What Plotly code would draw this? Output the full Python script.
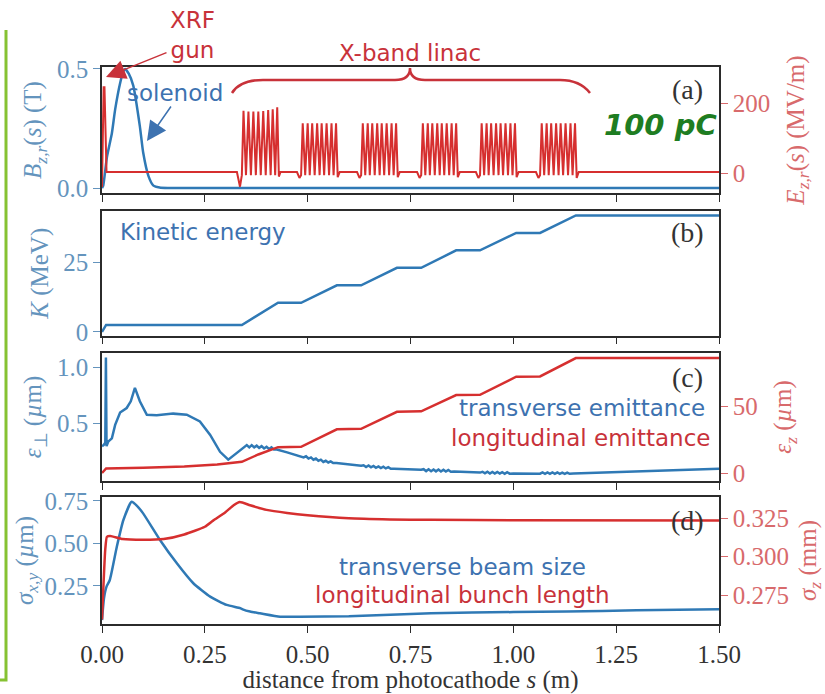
import plotly.graph_objects as go

# ---------------- data ----------------
# panel (a): solenoid field Bz (T) and RF field Ez (MV/m)
sol_s = [0.0, 0.003, 0.012, 0.024, 0.032, 0.044, 0.052, 0.056, 0.065, 0.076, 0.092, 0.100, 0.113, 0.125, 0.14, 0.16, 1.5]
sol_B = [0.0, 0.01, 0.13, 0.23, 0.33, 0.44, 0.49, 0.50, 0.48, 0.43, 0.26, 0.15, 0.05, 0.01, 0.002, 0.0, 0.0]

rf_s = [0.0, 0.004, 0.006, 0.011, 0.328, 0.3355,
        0.340, 0.344, 0.350, 0.356, 0.362, 0.368, 0.374, 0.380, 0.386, 0.392, 0.398, 0.404, 0.410, 0.415, 0.421, 0.426, 0.430, 0.434,
        0.474, 0.480, 0.484, 0.488, 0.494, 0.500, 0.505, 0.511, 0.517, 0.523, 0.529, 0.534, 0.540, 0.546, 0.552, 0.558, 0.563, 0.569, 0.573, 0.578,
        0.620, 0.626, 0.630, 0.634, 0.640, 0.646, 0.651, 0.657, 0.663, 0.669, 0.675, 0.680, 0.686, 0.692, 0.698, 0.704, 0.709, 0.715, 0.719, 0.724,
        0.766, 0.772, 0.776, 0.780, 0.786, 0.792, 0.797, 0.803, 0.809, 0.815, 0.821, 0.826, 0.832, 0.838, 0.844, 0.850, 0.855, 0.861, 0.865, 0.870,
        0.909, 0.915, 0.919, 0.923, 0.929, 0.935, 0.940, 0.946, 0.952, 0.958, 0.964, 0.969, 0.975, 0.981, 0.987, 0.993, 0.998, 1.004, 1.008, 1.013,
        1.055, 1.061, 1.065, 1.069, 1.075, 1.081, 1.086, 1.092, 1.098, 1.104, 1.110, 1.115, 1.121, 1.127, 1.133, 1.139, 1.144, 1.150, 1.154, 1.159,
        1.5]
rf_E = [-40, 245, 245, 3, 3, -39,
        -6, 178, -6, 176, -6, 176, -6, 176, -6, 177, -6, 180, -6, 182, -6, 188, -10, 3,
        3, -14, -6, 142, -6, 142, -6, 142, -6, 142, -6, 142, -6, 142, -6, 142, -6, 142, -12, 3,
        3, -14, -6, 142, -6, 142, -6, 142, -6, 142, -6, 142, -6, 142, -6, 142, -6, 142, -12, 3,
        3, -14, -6, 142, -6, 142, -6, 142, -6, 142, -6, 142, -6, 142, -6, 142, -6, 142, -12, 3,
        3, -14, -6, 142, -6, 142, -6, 142, -6, 142, -6, 142, -6, 142, -6, 142, -6, 142, -12, 3,
        3, -14, -6, 142, -6, 142, -6, 142, -6, 142, -6, 142, -6, 142, -6, 142, -6, 142, -14, 3,
        3]

# panel (b): kinetic energy (MeV)
ke_s = [0.0, 0.01, 0.34, 0.428, 0.484, 0.571, 0.630, 0.717, 0.776, 0.861, 0.919, 1.007, 1.065, 1.152, 1.5]
ke_K = [0.0, 2.5, 2.5, 10.5, 10.5, 16.8, 16.8, 23.1, 23.1, 29.4, 29.4, 35.7, 35.7, 42.0, 42.0]

# panel (c): transverse emittance (um) and longitudinal emittance (um)
emt_s = [0.0, 0.004, 0.008, 0.0095, 0.011, 0.015, 0.024, 0.032, 0.044, 0.060, 0.070, 0.080, 0.092, 0.109, 0.133, 0.173,
         0.206, 0.238, 0.263, 0.287, 0.307, 0.327,
         0.345, 0.352, 0.358, 0.364, 0.370, 0.376, 0.382, 0.388, 0.394, 0.400, 0.406, 0.412, 0.418, 0.425, 0.450, 0.481,
         0.490, 0.496, 0.502, 0.508, 0.514, 0.520, 0.526, 0.532, 0.538, 0.544, 0.550, 0.556, 0.562, 0.570, 0.600, 0.630,
         0.636, 0.642, 0.648, 0.654, 0.660, 0.666, 0.672, 0.678, 0.684, 0.690, 0.696, 0.702, 0.710, 0.740, 0.776,
         0.782, 0.788, 0.794, 0.800, 0.806, 0.812, 0.818, 0.824, 0.830, 0.836, 0.842, 0.848, 0.856, 0.890, 0.919,
         0.925, 0.931, 0.937, 0.943, 0.949, 0.955, 0.961, 0.967, 0.973, 0.979, 0.985, 0.991, 1.000, 1.030, 1.065,
         1.071, 1.077, 1.083, 1.089, 1.095, 1.101, 1.107, 1.113, 1.119, 1.125, 1.131, 1.137, 1.146,
         1.200, 1.300, 1.400, 1.500]
emt_v = [0.30, 0.31, 0.33, 1.09, 0.30, 0.34, 0.37, 0.49, 0.60, 0.64, 0.70, 0.82, 0.70, 0.58, 0.575, 0.59,
         0.58, 0.52, 0.40, 0.25, 0.18, 0.24,
         0.29, 0.31, 0.29, 0.31, 0.29, 0.305, 0.285, 0.30, 0.28, 0.295, 0.275, 0.29, 0.27, 0.27, 0.245, 0.21,
         0.20, 0.21, 0.19, 0.20, 0.18, 0.19, 0.17, 0.18, 0.16, 0.17, 0.155, 0.165, 0.15, 0.15, 0.14, 0.125,
         0.13, 0.115, 0.128, 0.112, 0.124, 0.108, 0.12, 0.105, 0.117, 0.102, 0.113, 0.099, 0.10, 0.095, 0.09,
         0.095, 0.078, 0.094, 0.077, 0.093, 0.076, 0.092, 0.075, 0.09, 0.074, 0.088, 0.073, 0.075, 0.07, 0.065,
         0.072, 0.058, 0.072, 0.057, 0.071, 0.056, 0.07, 0.056, 0.069, 0.055, 0.068, 0.055, 0.056, 0.055, 0.055,
         0.066, 0.054, 0.066, 0.054, 0.066, 0.054, 0.066, 0.054, 0.065, 0.054, 0.065, 0.054, 0.056,
         0.062, 0.075, 0.088, 0.10]

eml_s = [0.0, 0.01, 0.1, 0.2, 0.28, 0.34, 0.38, 0.428, 0.484, 0.571, 0.63, 0.717, 0.776, 0.861, 0.919, 1.007, 1.065, 1.152, 1.5]
eml_v = [0.0, 3.5, 4.0, 5.0, 6.5, 8.5, 14.0, 19.5, 19.8, 33.0, 33.3, 46.2, 46.5, 58.8, 59.0, 72.6, 72.8, 86.7, 86.7]

# panel (d): transverse beam size (um) and bunch length (mm)
sxy_s = [0.0, 0.005, 0.011, 0.019, 0.036, 0.052, 0.072, 0.085, 0.100, 0.141, 0.182, 0.222, 0.263, 0.303, 0.336, 0.342,
         0.360, 0.384, 0.433, 0.481, 0.600, 0.800, 1.000, 1.130, 1.300, 1.500]
sxy_v = [0.05, 0.18, 0.246, 0.285, 0.48, 0.637, 0.744, 0.72, 0.676, 0.52, 0.383, 0.266, 0.1875, 0.139, 0.12, 0.113,
         0.10, 0.09, 0.07, 0.07, 0.072, 0.09, 0.097, 0.10, 0.107, 0.114]

sz_s = [0.0, 0.008, 0.012, 0.02, 0.05, 0.10, 0.15, 0.20, 0.25, 0.27, 0.30, 0.32, 0.335, 0.36, 0.40, 0.45, 0.50, 0.60,
        0.70, 0.80, 1.00, 1.50]
sz_v = [0.259, 0.305, 0.313, 0.3135, 0.3115, 0.311, 0.3115, 0.3145, 0.3195, 0.3235, 0.329, 0.3335, 0.3356, 0.3335,
        0.3305, 0.3285, 0.327, 0.325, 0.3243, 0.324, 0.3237, 0.3235]

x_ticks = [0.0, 0.25, 0.5, 0.75, 1.0, 1.25, 1.5]
x_ticklabels = ["0.00", "0.25", "0.50", "0.75", "1.00", "1.25", "1.50"]

# ---------------- style ----------------
BLUE = "#2f79b5"
RED = "#d62f2f"
BLUE_TXT = "#6494bd"
RED_TXT = "#d86a6c"
ANN_BLUE = "#3d72b0"
ANN_RED = "#c8323a"
GREEN = "#1e7d22"
FRAME = "#2b2b2b"
SERIF = "Liberation Serif"
SANS = "DejaVu Sans"

W, H = 825, 694
L, R, T, B = 102, 719, 67, 624


def px(xp):
    return (xp - L) / (R - L)


def py(yp):
    return (B - yp) / (B - T)


def dom(top, bottom):
    return [py(bottom), py(top)]


fig = go.Figure()
lw = 2.5
smooth = dict(shape="spline", smoothing=0.5)
fig.add_trace(go.Scatter(x=sol_s, y=sol_B, mode="lines", line=dict(color=BLUE, width=lw, **smooth), xaxis="x", yaxis="y"))
fig.add_trace(go.Scatter(x=rf_s, y=rf_E, mode="lines", line=dict(color=RED, width=2), xaxis="x", yaxis="y2"))
fig.add_trace(go.Scatter(x=ke_s, y=ke_K, mode="lines", line=dict(color=BLUE, width=lw), xaxis="x2", yaxis="y3"))
fig.add_trace(go.Scatter(x=emt_s, y=emt_v, mode="lines", line=dict(color=BLUE, width=lw), xaxis="x3", yaxis="y4"))
fig.add_trace(go.Scatter(x=eml_s, y=eml_v, mode="lines", line=dict(color=RED, width=lw), xaxis="x3", yaxis="y5"))
fig.add_trace(go.Scatter(x=sxy_s, y=sxy_v, mode="lines", line=dict(color=BLUE, width=lw, **smooth), xaxis="x4", yaxis="y6"))
fig.add_trace(go.Scatter(x=sz_s, y=sz_v, mode="lines", line=dict(color=RED, width=lw, **smooth), xaxis="x4", yaxis="y7"))

tickfont = lambda c: dict(family=SERIF, size=25, color=c)


def xax(anchor, labels=False, title=None):
    d = dict(range=[0, 1.5], tickvals=x_ticks, ticktext=x_ticklabels, showticklabels=labels,
             showline=True, linecolor=FRAME, linewidth=1.5, mirror=True, ticks="outside", ticklen=7,
             tickwidth=1.3, tickcolor=FRAME, showgrid=False, zeroline=False, anchor=anchor,
             tickfont=tickfont("#333333"), domain=[0, 1], automargin=False)
    if title:
        d["title"] = dict(text=title, font=dict(family=SERIF, size=25, color="#333333"), standoff=16)
    return d


def yax(rng, tickvals, ticktext, color, title, anchor, domain=None, side="left", overlaying=None, standoff=10):
    d = dict(range=rng, tickvals=tickvals, ticktext=ticktext, showline=True, linecolor=FRAME, linewidth=1.5,
             mirror=(overlaying is None), ticks="outside", ticklen=7, tickwidth=1.3, tickcolor=color,
             showgrid=False, zeroline=False, anchor=anchor, side=side, tickfont=tickfont(color), automargin=False,
             title=dict(text=title, font=dict(family=SERIF, size=25, color=color), standoff=standoff))
    if domain is not None:
        d["domain"] = domain
    if overlaying:
        d["overlaying"] = overlaying
    return d


layout = dict(
    width=W, height=H, margin=dict(l=L, r=W - R, t=T, b=H - B, autoexpand=False),
    plot_bgcolor="white", paper_bgcolor="white", showlegend=False,
    xaxis=xax("y"),
    xaxis2=xax("y3"),
    xaxis3=xax("y4"),
    xaxis4=xax("y6", labels=True, title="distance from photocathode <i>s</i> (m)"),
    yaxis=yax([-0.021, 0.508], [0, 0.5], ["0.0", "0.5"], BLUE_TXT,
              "<i>B</i><sub><i>z,r</i></sub>(<i>s</i>) (T)", "x", domain=dom(67, 193), standoff=8),
    yaxis2=yax([-57, 303], [0, 200], ["0", "200"], RED_TXT,
               "<i>E</i><sub><i>z,r</i></sub>(<i>s</i>) (MV/m)", "x", side="right", overlaying="y", standoff=17),
    yaxis3=yax([-1.3, 43.6], [0, 25], ["0", "25"], BLUE_TXT, "<i>K</i> (MeV)", "x2", domain=dom(211, 335.5),
               standoff=8),
    yaxis4=yax([-0.01, 1.13], [0.5, 1.0], ["0.5", "1.0"], BLUE_TXT, "<i>ε</i><sub>⊥</sub> (<i>µ</i>m)", "x3",
               domain=dom(353, 481), standoff=8),
    yaxis5=yax([-6, 90.5], [0, 50], ["0", "50"], RED_TXT, "<i>ε</i><sub><i>z</i></sub> (<i>µ</i>m)", "x3",
               side="right", overlaying="y4", standoff=17),
    yaxis6=yax([0.027, 0.772], [0.25, 0.5, 0.75], ["0.25", "0.50", "0.75"], BLUE_TXT,
               "<i>σ</i><sub><i>x,y</i></sub> (<i>µ</i>m)", "x4", domain=dom(497, 624), standoff=4),
    yaxis7=yax([0.2561, 0.3389], [0.275, 0.3, 0.325], ["0.275", "0.300", "0.325"], RED_TXT,
               "<i>σ</i><sub><i>z</i></sub> (mm)", "x4", side="right", overlaying="y6", standoff=16),
)
fig.update_layout(**layout)


def text_ann(t, x, y, size, color, family=SANS, xanchor="center"):
    fig.add_annotation(text=t, x=px(x), y=py(y), xref="paper", yref="paper", showarrow=False,
                       xanchor=xanchor, yanchor="middle", font=dict(family=family, size=size, color=color))


# labels in panel (a)
text_ann("XRF<br>gun", 192, 35, 23, ANN_RED)
text_ann("solenoid", 175, 93, 23, ANN_BLUE)
text_ann("X-band linac", 410, 53, 23, ANN_RED)
text_ann("<b><i>100 pC</i></b>", 660, 125, 29, GREEN)
for lab, yy in [("(a)", 90), ("(b)", 232), ("(c)", 377), ("(d)", 520)]:
    text_ann(lab, 687, yy, 28, "#333333", family=SERIF)
text_ann("Kinetic energy", 203, 232, 23, ANN_BLUE)
text_ann("transverse emittance", 707, 408, 23, ANN_BLUE, xanchor="right")
text_ann("longitudinal emittance", 712, 438, 23, ANN_RED, xanchor="right")
text_ann("transverse beam size", 462.5, 567, 23, ANN_BLUE)
text_ann("longitudinal bunch length", 462.5, 595, 23, ANN_RED)

# arrows
fig.add_annotation(text="", x=0.0097, y=0.466, xref="x", yref="y", ax=62, ay=-25, showarrow=True,
                   arrowhead=2, arrowsize=2.6, arrowwidth=1.5, arrowcolor=ANN_RED)
fig.add_annotation(text="", x=0.1094, y=0.1975, xref="x", yref="y", ax=25, ay=-36, showarrow=True,
                   arrowhead=2, arrowsize=2.6, arrowwidth=1.5, arrowcolor=ANN_BLUE)

# curly brace over the X-band linac
def bx(p):
    return (p - L) / (R - L) * 1.5

brace = (f"M {bx(232)},{py(93)} Q {bx(240)},{py(80)} {bx(263)},{py(80)} "
         f"L {bx(395)},{py(80)} Q {bx(410)},{py(80)} {bx(410)},{py(68)} "
         f"Q {bx(410)},{py(80)} {bx(425)},{py(80)} L {bx(560)},{py(80)} "
         f"Q {bx(580)},{py(80)} {bx(590)},{py(93)}")
fig.add_shape(type="path", path=brace, xref="x", yref="paper", line=dict(color=ANN_RED, width=2.5))

# green slide border on the left
fig.add_shape(type="path", xref="paper", yref="paper",
              path=f"M {px(0)},{py(680)} L {px(6)},{py(680)} L {px(6)},{py(30)}",
              line=dict(color="#86c232", width=3))

fig.write_html("out.html")
